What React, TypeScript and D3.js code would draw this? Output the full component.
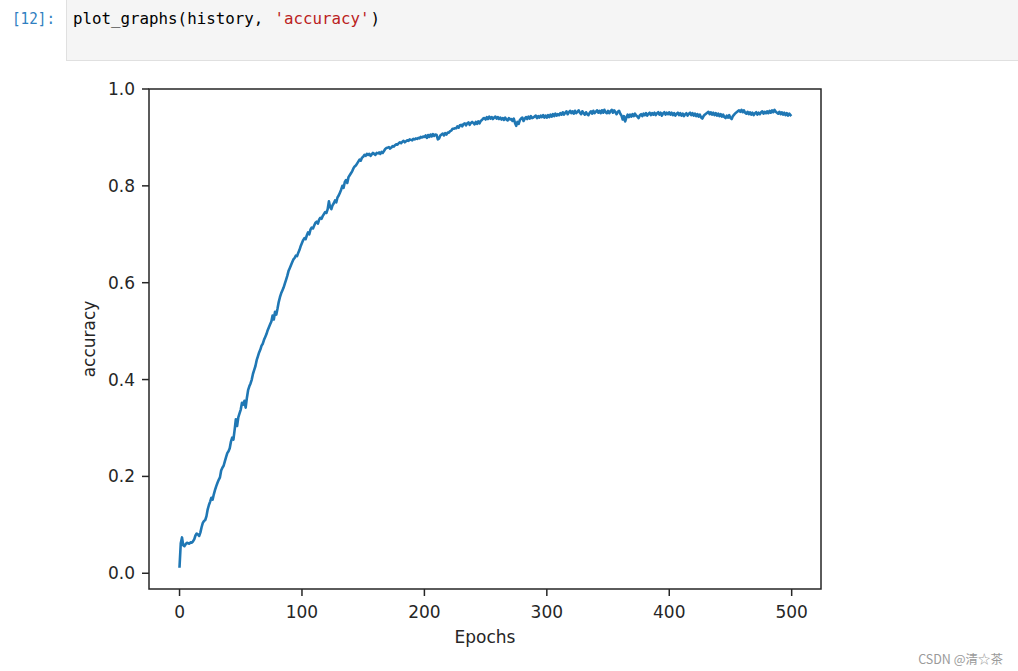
import React from "react";
import * as d3 from "d3";

// accuracy per epoch (rows of 10 epochs)
const accuracy = [
  0.014, 0.062, 0.074, 0.058, 0.056, 0.060, 0.063, 0.062, 0.061, 0.064,
  0.063, 0.066, 0.070, 0.078, 0.082, 0.080, 0.077, 0.084, 0.095, 0.104,
  0.108, 0.110, 0.118, 0.132, 0.141, 0.148, 0.156, 0.152, 0.163, 0.172,
  0.180, 0.187, 0.193, 0.198, 0.212, 0.218, 0.222, 0.231, 0.240, 0.248,
  0.252, 0.258, 0.272, 0.280, 0.276, 0.296, 0.318, 0.304, 0.322, 0.330,
  0.338, 0.352, 0.348, 0.356, 0.342, 0.362, 0.378, 0.386, 0.392, 0.400,
  0.412, 0.420, 0.428, 0.440, 0.448, 0.456, 0.462, 0.470, 0.474, 0.482,
  0.488, 0.494, 0.502, 0.508, 0.514, 0.520, 0.532, 0.524, 0.540, 0.534,
  0.546, 0.560, 0.570, 0.578, 0.584, 0.590, 0.598, 0.606, 0.614, 0.624,
  0.630, 0.636, 0.642, 0.648, 0.651, 0.656, 0.655, 0.662, 0.668, 0.676,
  0.682, 0.688, 0.692, 0.690, 0.698, 0.704, 0.700, 0.710, 0.714, 0.712,
  0.718, 0.724, 0.726, 0.722, 0.730, 0.734, 0.732, 0.738, 0.742, 0.746,
  0.744, 0.752, 0.768, 0.756, 0.752, 0.760, 0.764, 0.770, 0.766, 0.776,
  0.780, 0.786, 0.792, 0.800, 0.796, 0.808, 0.812, 0.806, 0.818, 0.822,
  0.826, 0.830, 0.836, 0.840, 0.842, 0.846, 0.850, 0.854, 0.852, 0.858,
  0.860, 0.864, 0.862, 0.866, 0.864, 0.866, 0.862, 0.865, 0.868, 0.866,
  0.864, 0.868, 0.867, 0.869, 0.866, 0.870, 0.868, 0.872, 0.876, 0.878,
  0.879, 0.880, 0.877, 0.879, 0.882, 0.881, 0.884, 0.886, 0.885, 0.888,
  0.890, 0.888, 0.891, 0.893, 0.890, 0.892, 0.894, 0.893, 0.896, 0.895,
  0.894, 0.897, 0.896, 0.898, 0.897, 0.899, 0.898, 0.901, 0.900, 0.902,
  0.901, 0.904, 0.899, 0.905, 0.901, 0.906, 0.902, 0.907, 0.903, 0.906,
  0.905, 0.896, 0.898, 0.904, 0.906, 0.908, 0.904, 0.909, 0.906, 0.910,
  0.910, 0.913, 0.914, 0.918, 0.918, 0.919, 0.919, 0.923, 0.920, 0.925,
  0.926, 0.923, 0.928, 0.929, 0.925, 0.929, 0.931, 0.926, 0.930, 0.932,
  0.930, 0.927, 0.932, 0.928, 0.933, 0.929, 0.934, 0.936, 0.939, 0.940,
  0.937, 0.942, 0.938, 0.943, 0.939, 0.942, 0.938, 0.941, 0.943, 0.939,
  0.942, 0.938, 0.941, 0.937, 0.940, 0.936, 0.941, 0.937, 0.935, 0.940,
  0.937, 0.938, 0.934, 0.939, 0.930, 0.924, 0.932, 0.928, 0.936, 0.939,
  0.941, 0.934, 0.939, 0.942, 0.938, 0.943, 0.939, 0.944, 0.940, 0.941,
  0.943, 0.945, 0.940, 0.944, 0.941, 0.945, 0.942, 0.946, 0.941, 0.945,
  0.941, 0.946, 0.942, 0.947, 0.943, 0.948, 0.944, 0.949, 0.945, 0.948,
  0.946, 0.950, 0.947, 0.952, 0.947, 0.951, 0.954, 0.948, 0.952, 0.955,
  0.950, 0.954, 0.949, 0.955, 0.950, 0.953, 0.956, 0.951, 0.948, 0.954,
  0.950, 0.947, 0.952, 0.948, 0.946, 0.951, 0.954, 0.949, 0.955, 0.950,
  0.953, 0.956, 0.951, 0.955, 0.950, 0.956, 0.951, 0.957, 0.952, 0.950,
  0.955, 0.950, 0.954, 0.957, 0.951, 0.956, 0.952, 0.948, 0.953, 0.955,
  0.949, 0.945, 0.937, 0.944, 0.933, 0.941, 0.947, 0.942, 0.947, 0.943,
  0.948, 0.944, 0.949, 0.945, 0.943, 0.940, 0.946, 0.948, 0.944, 0.949,
  0.946, 0.950, 0.945, 0.949, 0.951, 0.946, 0.950, 0.947, 0.951, 0.946,
  0.950, 0.952, 0.947, 0.951, 0.945, 0.950, 0.952, 0.947, 0.951, 0.948,
  0.952, 0.947, 0.951, 0.946, 0.950, 0.945, 0.949, 0.951, 0.946, 0.950,
  0.945, 0.949, 0.944, 0.948, 0.950, 0.945, 0.949, 0.951, 0.946, 0.950,
  0.945, 0.949, 0.944, 0.948, 0.943, 0.947, 0.941, 0.939, 0.944, 0.947,
  0.949, 0.951, 0.953, 0.948, 0.952, 0.947, 0.951, 0.946, 0.950, 0.945,
  0.949, 0.944, 0.948, 0.943, 0.947, 0.942, 0.940, 0.945, 0.941, 0.946,
  0.940, 0.938, 0.944, 0.947, 0.950, 0.952, 0.954, 0.956, 0.953, 0.957,
  0.952, 0.956, 0.951, 0.949, 0.953, 0.948, 0.952, 0.947, 0.951, 0.946,
  0.950, 0.952, 0.947, 0.951, 0.948, 0.952, 0.954, 0.949, 0.953, 0.950,
  0.954, 0.950, 0.955, 0.951, 0.956, 0.952, 0.957, 0.953, 0.951, 0.949,
  0.953, 0.948, 0.952, 0.947, 0.951, 0.946, 0.950, 0.945, 0.949, 0.946,
];

const xTicks = [0, 100, 200, 300, 400, 500];
const yTicks = [0.0, 0.2, 0.4, 0.6, 0.8, 1.0];
const xLabel = "Epochs";
const yLabel = "accuracy";

const W = 1018;
const H = 671;
const box = { left: 149, right: 821, top: 89, bottom: 589 };
const font = "'DejaVu Sans', sans-serif";
const mono = "'DejaVu Sans Mono', 'Liberation Mono', monospace";
const ink = "#262626";
const codeSize = 15.8;
const charW = 307 / 32; // slot for one code character (a bit wider than the glyph)

// code in the cell, split by colour
const codeParts = [
  { text: "plot_graphs(history, ", color: "#000" },
  { text: "'accuracy'", color: "#ba2121" },
  { text: ")", color: "#000" },
];

export default function App() {
  const x = d3
    .scaleLinear()
    .domain([-24.95, 523.95])
    .range([box.left, box.right]);
  const y = d3.scaleLinear().domain([-0.0325, 1.0]).range([box.bottom, box.top]);

  const line = d3
    .line<number>()
    .x((_, i) => x(i))
    .y((d) => y(d));

  const fmt = d3.format(".1f");

  let col = 0;
  const code = codeParts.map((p) => {
    const start = col;
    col += p.text.length;
    return (
      <text
        key={p.text}
        x={73 + start * charW}
        y={24}
        fontFamily={mono}
        fontSize={codeSize}
        fill={p.color}
      >
        {p.text.trimEnd()}
      </text>
    );
  });

  return (
    <div style={{ position: "fixed", left: 0, top: 0 }}>
      <svg width={W} height={H} style={{ display: "block", background: "#fff" }}>
        {/* notebook cell */}
        <text x={12} y={24} fontFamily={mono} fontSize={16} fill="#307fc1" textLength={43} lengthAdjust="spacingAndGlyphs">
          [12]:
        </text>
        <rect x={66.5} y={-2} width={W} height={62.5} fill="#f5f5f5" stroke="#e0e0e0" />
        {code}

        {/* plot line */}
        <path d={line(accuracy) || ""} fill="none" stroke="#1f77b4" strokeWidth={2.6} strokeLinejoin="round" strokeLinecap="square" />

        {/* frame */}
        <rect
          x={box.left}
          y={box.top}
          width={box.right - box.left}
          height={box.bottom - box.top}
          fill="none"
          stroke={ink}
          strokeWidth={1.5}
        />

        {/* x axis */}
        {xTicks.map((t) => (
          <g key={"x" + t}>
            <line x1={x(t)} x2={x(t)} y1={box.bottom} y2={box.bottom + 7} stroke={ink} strokeWidth={1.5} />
            <text x={x(t)} y={618} textAnchor="middle" fontFamily={font} fontSize={17} fill={ink}>
              {t}
            </text>
          </g>
        ))}
        <text x={(box.left + box.right) / 2} y={643} textAnchor="middle" fontFamily={font} fontSize={17} fill={ink}>
          {xLabel}
        </text>

        {/* y axis */}
        {yTicks.map((t) => (
          <g key={"y" + t}>
            <line x1={box.left - 7} x2={box.left} y1={y(t)} y2={y(t)} stroke={ink} strokeWidth={1.5} />
            <text x={135} y={y(t) + 6} textAnchor="end" fontFamily={font} fontSize={17} fill={ink}>
              {fmt(t)}
            </text>
          </g>
        ))}
        <text
          transform={`translate(95, ${(box.top + box.bottom) / 2}) rotate(-90)`}
          textAnchor="middle"
          fontFamily={font}
          fontSize={17}
          fill={ink}
        >
          {yLabel}
        </text>

        {/* watermark */}
        <text x={1003} y={664} textAnchor="end" fontFamily="'Noto Sans CJK SC', 'Liberation Sans', sans-serif" fontSize={12.5} fill="#9a9a9a">
          CSDN @清☆茶
        </text>
      </svg>
    </div>
  );
}
